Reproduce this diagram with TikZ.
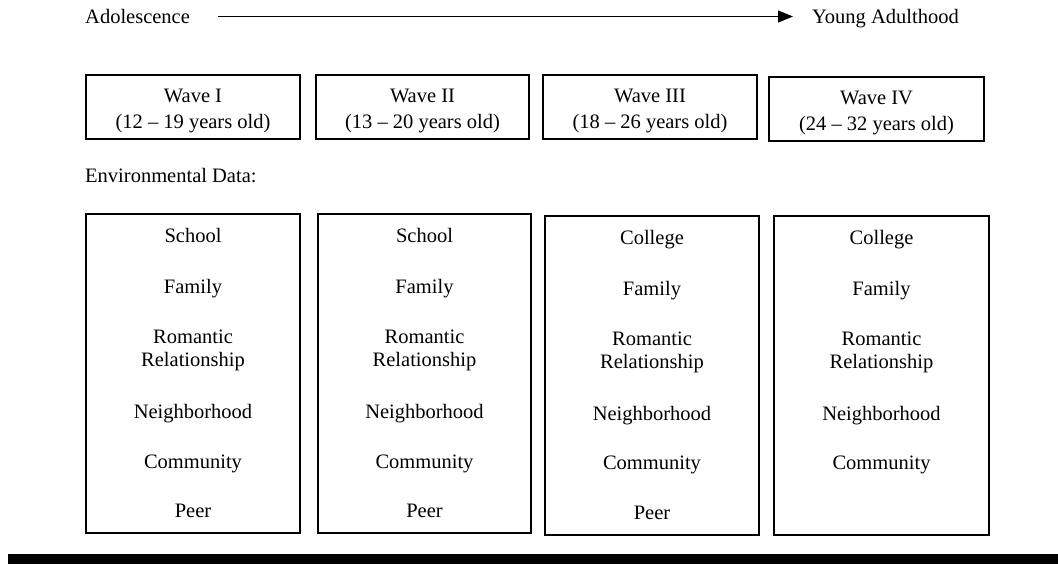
\documentclass[tikz,border=0pt]{standalone}
\usepackage{fontspec}
\setmainfont{Liberation Serif}
\usetikzlibrary{arrows.meta}
\begin{document}
\begin{tikzpicture}[x=1pt,y=-1pt,
  box/.style={draw, line width=1.3pt, inner sep=0pt},
  txt/.style={anchor=base, inner sep=0pt, font=\fontsize{20.5}{24}\selectfont},
  ltxt/.style={anchor=base west, inner sep=0pt, font=\fontsize{20.5}{24}\selectfont},
  timeline/.style={line width=1.3pt, -{Triangle[length=15pt,width=12pt]}}
]
\useasboundingbox (0,0) rectangle (1058,565);

% top timeline
\node[ltxt] (adol) at (85,23.5) {Adolescence};
\node[ltxt] (young) at (812,23.5) {Young Adulthood};
\coordinate (tl1) at (218,16.5);
\coordinate (tl2) at (793,16.5);
\draw[timeline] (tl1) -- (tl2);

% wave boxes
\node[box, minimum width=214pt, minimum height=64pt] (w1) at (193,107) {};
\node[box, minimum width=213pt, minimum height=64pt] (w2) at (422.5,107) {};
\node[box, minimum width=214pt, minimum height=64pt] (w3) at (650,107) {};
\node[box, minimum width=215pt, minimum height=64pt] (w4) at (876.5,109) {};

\node[txt] (w1a) at (193,102) {Wave I};
\node[txt] (w1b) at (193,128) {(12 – 19 years old)};
\node[txt] (w2a) at (422.5,102) {Wave II};
\node[txt] (w2b) at (422.5,128) {(13 – 20 years old)};
\node[txt] (w3a) at (650,102) {Wave III};
\node[txt] (w3b) at (650,128) {(18 – 26 years old)};
\node[txt] (w4a) at (876.5,104) {Wave IV};
\node[txt] (w4b) at (876.5,130) {(24 – 32 years old)};

\node[ltxt] (env) at (85,182) {Environmental Data:};

% environment boxes
\node[box, minimum width=214pt, minimum height=319pt] (e1) at (193,373.5) {};
\node[box, minimum width=213pt, minimum height=319pt] (e2) at (424.5,373.5) {};
\node[box, minimum width=214pt, minimum height=319pt] (e3) at (652,375.5) {};
\node[box, minimum width=215pt, minimum height=319pt] (e4) at (881.5,375.5) {};

\foreach \n/\x in {1/193,2/424.5}{
  \node[txt] (s\n) at (\x,242) {School};
  \node[txt] (f\n) at (\x,293) {Family};
  \node[txt] (r\n) at (\x,343) {Romantic};
  \node[txt] (rr\n) at (\x,366) {Relationship};
  \node[txt] (n\n) at (\x,418) {Neighborhood};
  \node[txt] (c\n) at (\x,468) {Community};
  \node[txt] (p\n) at (\x,517) {Peer};
}
\foreach \n/\x in {3/652,4/881.5}{
  \node[txt] (s\n) at (\x,244) {College};
  \node[txt] (f\n) at (\x,295) {Family};
  \node[txt] (r\n) at (\x,345) {Romantic};
  \node[txt] (rr\n) at (\x,368) {Relationship};
  \node[txt] (n\n) at (\x,420) {Neighborhood};
  \node[txt] (c\n) at (\x,469) {Community};
}
\node[txt] (p3) at (652,519) {Peer};

% bottom bar
\fill (8,554) rectangle (1058,564);
\end{tikzpicture}
\end{document}
